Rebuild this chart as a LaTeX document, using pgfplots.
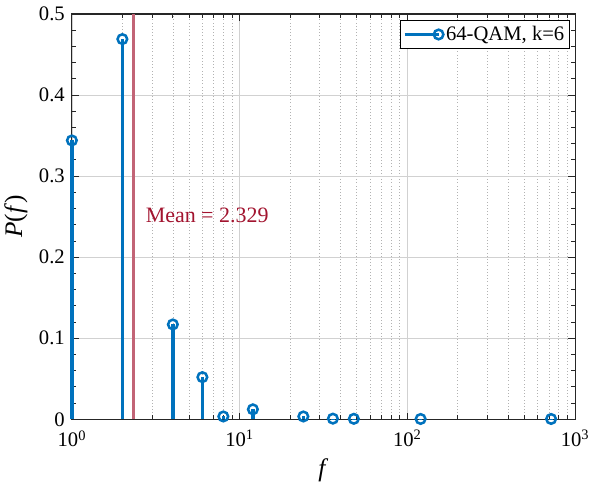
\documentclass[border=0pt]{standalone}
\usepackage{pgfplots}
\pgfplotsset{compat=1.18}
\usepackage{fontspec}
\setmainfont{Liberation Serif}
\definecolor{mblue}{RGB}{0,114,189}
\definecolor{mred}{RGB}{162,20,47}
\definecolor{mredl}{RGB}{194,100,118}
\begin{document}
\fontsize{15.5}{18}\selectfont
\begin{tikzpicture}
\begin{axis}[
    scale only axis,
    width=378pt, height=304.5pt,
    xmode=log,
    xmin=1, xmax=1000,
    ymin=0, ymax=0.5,
    clip=false,
    xtick={1,10,100,1000},
    xticklabels={10\textsuperscript{0},10\textsuperscript{1},10\textsuperscript{2},10\textsuperscript{3}},
    ytick={0,0.1,0.2,0.3,0.4,0.5},
    minor y tick num=4,
    /pgf/number format/assume math mode=true,
    xlabel={\textit{f}},
    ylabel={\textit{P}(\textit{f})},
    ticklabel style={font=\fontsize{15.5}{18}\selectfont},
    xticklabel style={yshift=-3pt},
    label style={font=\fontsize{19}{22}\selectfont},
    xlabel style={yshift=2pt},
    ylabel style={yshift=-2pt},
    xmajorgrids, ymajorgrids, xminorgrids,
    major grid style={draw=black!18, line width=0.5pt},
    minor grid style={draw=black!30, dotted, line width=0.5pt},
    axis line style={line width=0.8pt, black!85},
    tick style={black!85, line width=0.6pt},
    major tick length=5pt, minor tick length=3pt,
    legend pos=north east,
    legend cell align=left,
    legend style={draw=black, line width=0.6pt, font=\fontsize{15.5}{18}\selectfont, inner sep=2pt, at={(0.99,0.985)}},
    legend image code/.code={\draw[sharp plot, mark repeat=2, mark phase=2] plot coordinates {(0cm,0cm)(0.9cm,0cm)};},
]
\addplot[mredl, line width=2.4pt, forget plot] coordinates {(2.329,0)(2.329,0.5)};
\addplot[mblue, line width=2.5pt, ycomb, mark=o, mark size=3.6pt,
    mark options={solid, fill=white, line width=1.9pt}]
    coordinates {
    (1,0.344)(2,0.469)(4,0.117)(6,0.052)(8,0.0035)(12,0.0123)
    (24,0.0035)(36,0.0008)(48,0.0006)(120,0.0004)(720,0.0004)
    };
\addlegendentry{64-QAM, k=6}
\node[anchor=west, text=mred, font=\fontsize{16.5}{19}\selectfont] at (axis cs:2.5,0.251) {Mean = 2.329};
\end{axis}
\pgfresetboundingbox
\path[use as bounding box] ([xshift=-54pt,yshift=-51.75pt]current axis.south west) rectangle ([xshift=15pt,yshift=10.5pt]current axis.north east);
\end{tikzpicture}
\end{document}
